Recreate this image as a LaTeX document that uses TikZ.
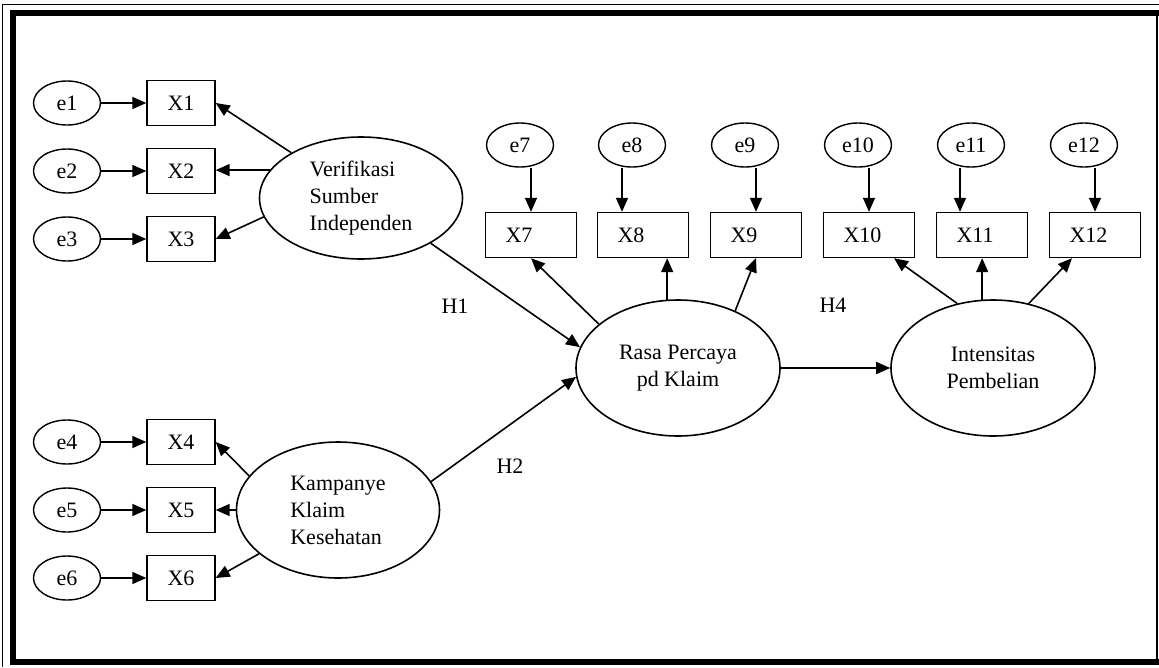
\documentclass[tikz,border=0pt]{standalone}
\usepackage{fontspec}
\setmainfont{Liberation Serif}
\usetikzlibrary{arrows.meta,shapes.geometric}

\begin{document}
\begin{tikzpicture}[x=1pt,y=-1pt,
  font=\fontsize{22}{27}\selectfont,
  lat/.style={ellipse,draw,line width=1.6pt,minimum width=203pt,minimum height=122pt,inner sep=0pt,align=left},
  err/.style={ellipse,draw,line width=1.4pt,minimum width=67pt,minimum height=44pt,inner sep=0pt},
  ind/.style={rectangle,draw,line width=1.4pt,minimum width=68pt,minimum height=45pt,inner sep=0pt},
  indtop/.style={ind,minimum width=91pt,text width=51pt,align=left},
  arr/.style={-{Triangle[length=14pt,width=12pt]},line width=1.6pt}]
  \useasboundingbox (0,0) rectangle (1159,667);

  % ====== Frame ======
  \draw[line width=1pt] (2.5,667) -- (2.5,4.5) -- (1159,4.5);
  \fill (10,10) rectangle (1159,16);
  \fill (10,10) rectangle (16,665);
  \fill (10,659) rectangle (1159,665);
  \draw[line width=1.5pt] (1157,16) -- (1157,659);

  % ====== Latent constructs ======
  \node[lat] (ver) at (361,198) {Verifikasi\\Sumber\\Independen};
  \node[lat,minimum height=136pt] (kam) at (338,510) {Kampanye\\Klaim\\Kesehatan};
  \node[lat,align=center,minimum width=204pt,minimum height=136pt] (ras) at (678,368)
    {Rasa Percaya\\pd Klaim};
  \node[lat,align=center,minimum width=204pt,minimum height=136pt] (int) at (993,368)
    {Intensitas\\Pembelian};

  % ====== Indicators on the left ======
  \foreach \i/\y in {1/103,2/171,3/239,4/442,5/510,6/578}{
    \node[err] (e\i) at (67,\y) {e\i};
    \node[ind] (X\i) at (181,\y) {X\i};
    \draw[arr] (e\i) -- (X\i);
  }

  % ====== Indicators on top ======
  \foreach \i/\x/\dx in {7/531/0,8/643/-21,9/756/0,10/869/0,11/982/-22,12/1095/0}{
    \node[indtop] (X\i) at (\x,235) {X\i};
    \node[err] (e\i) at (\x-11,145) {e\i};
    \draw[arr] ([xshift=\dx pt]X\i.north |- e\i.south) -- ([xshift=\dx pt]X\i.north);
  }

  % ====== Loadings ======
  \draw[arr] (ver.147) -- (X1.east);
  \draw[arr] (ver.163) -- (ver.163 -| X2.east);
  \draw[arr] (ver.191) -- (X3.east);
  \draw[arr] (kam.159) -- (X4.east);
  \draw[arr] (kam.west) -- (X5.east);
  \draw[arr] (kam.209) -- (X6.east);
  \draw[arr] (ras.151) -- (X7.south);
  \draw[arr] (ras.99) -- (ras.99 |- X8.south);
  \draw[arr] (ras.45) -- (X9.south);
  \draw[arr] (int.119) -- ([xshift=25pt]X10.south);
  \draw[arr] (int.99) -- (int.99 |- X11.south);
  \draw[arr] (int.61) -- ([xshift=-23pt]X12.south);

  % ====== Hypothesised paths ======
  \draw[arr] (ver.327) -- (ras.168);
  \draw[arr] (kam.17) -- (ras.185);
  \draw[arr] (ras) -- (int);
  \node (h1) at (455,306) {H1};
  \node (h2) at (510,466) {H2};
  \node (h4) at (833,305) {H4};
\end{tikzpicture}
\end{document}
